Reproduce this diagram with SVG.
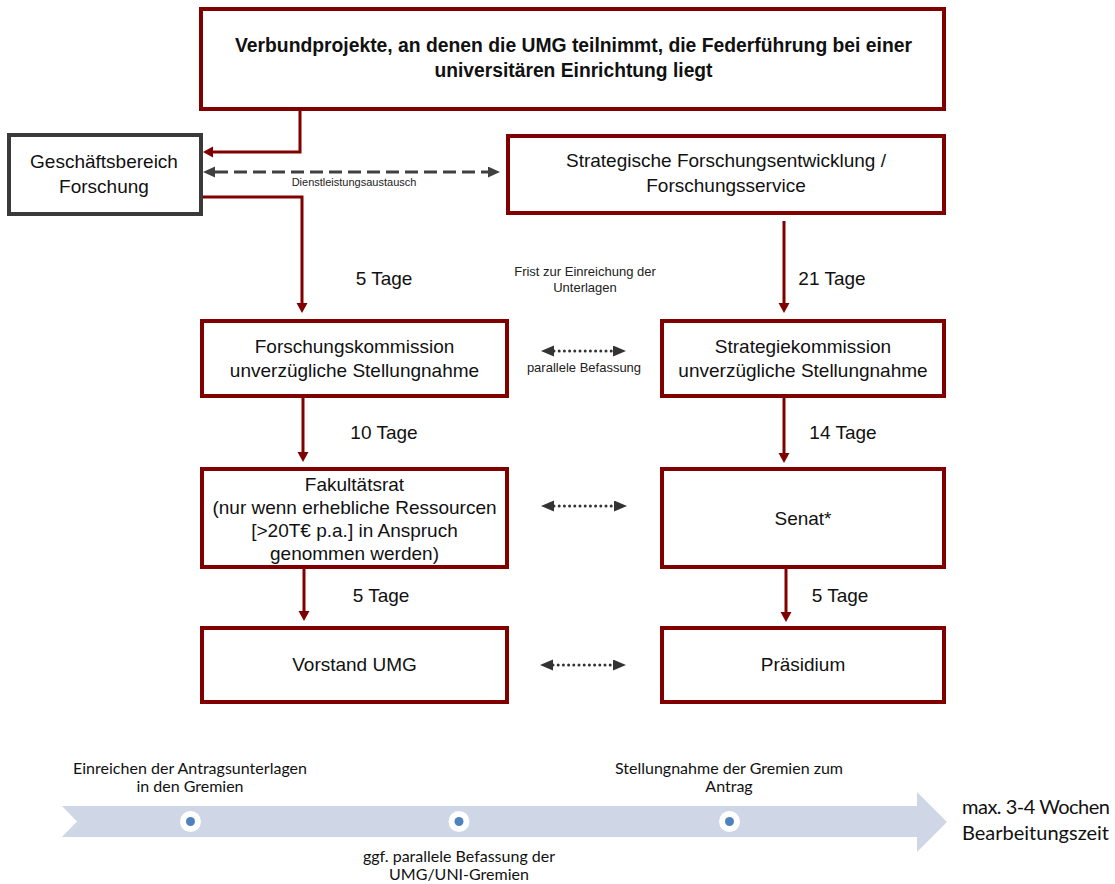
<svg xmlns="http://www.w3.org/2000/svg" width="1115" height="884" viewBox="0 0 1115 884">
<style>
.box{fill:#fff;stroke:#800000;stroke-width:4}
.gbox{fill:#fff;stroke:#3a3a3a;stroke-width:4}
.t{font-family:"Liberation Sans",Arial,sans-serif;font-size:19px;fill:#111;text-anchor:middle}
.tb{font-family:"Liberation Sans",Arial,sans-serif;font-size:20px;font-weight:bold;fill:#111;text-anchor:middle}
.s{font-family:"Liberation Sans",Arial,sans-serif;font-size:13px;fill:#222;text-anchor:middle}
.xs{font-family:"Liberation Sans",Arial,sans-serif;font-size:11px;fill:#222;text-anchor:middle}
.c{font-family:Lato,"Open Sans",sans-serif;font-size:16px;fill:#111;text-anchor:middle}
.cl{font-family:Lato,"Open Sans",sans-serif;font-size:20px;fill:#111}
.red{fill:none;stroke:#800000;stroke-width:3}
.dash{fill:none;stroke:#404040;stroke-width:3;stroke-dasharray:13 6}
.dot{fill:none;stroke:#333;stroke-width:3;stroke-linecap:round;stroke-dasharray:0 5.2}
</style>
<defs>
<marker id="ar" markerUnits="userSpaceOnUse" markerWidth="12" markerHeight="12" refX="0" refY="5.5" orient="auto"><path d="M0,0 L10,5.5 L0,11 z" fill="#800000"/></marker>
<marker id="ag" markerUnits="userSpaceOnUse" markerWidth="14" markerHeight="12" refX="0" refY="5.5" orient="auto-start-reverse"><path d="M0,0 L12,5.5 L0,11 z" fill="#404040"/></marker>
<marker id="ad" markerUnits="userSpaceOnUse" markerWidth="14" markerHeight="12" refX="0" refY="5.5" orient="auto-start-reverse"><path d="M0,0 L13,5.5 L0,11 z" fill="#333"/></marker>
</defs>

<g id="connectors">
<path class="red" d="M300,109 V152 H213" marker-end="url(#ar)"/>
<path class="red" d="M201,197 H302 V303" marker-end="url(#ar)"/>
<path class="red" d="M784,221 V303" marker-end="url(#ar)"/>
<path class="red" d="M303,396 V452" marker-end="url(#ar)"/>
<path class="red" d="M784,396 V453" marker-end="url(#ar)"/>
<path class="red" d="M304,567 V611" marker-end="url(#ar)"/>
<path class="red" d="M786,567 V612" marker-end="url(#ar)"/>
<path class="dash" d="M215,172 H488" marker-start="url(#ag)" marker-end="url(#ag)"/>
<text class="xs" x="354" y="186">Dienstleistungsaustausch</text>
<path class="dot" d="M554,351 H613" marker-start="url(#ad)" marker-end="url(#ad)"/>
<text class="s" x="584" y="372">parallele Befassung</text>
<path class="dot" d="M554,506 H614" marker-start="url(#ad)" marker-end="url(#ad)"/>
<path class="dot" d="M553,665 H613" marker-start="url(#ad)" marker-end="url(#ad)"/>
<text class="s" x="585" y="276">Frist zur Einreichung der</text>
<text class="s" x="585" y="292">Unterlagen</text>
<text class="t" x="384" y="285">5 Tage</text>
<text class="t" x="832" y="285">21 Tage</text>
<text class="t" x="384" y="439">10 Tage</text>
<text class="t" x="843" y="439">14 Tage</text>
<text class="t" x="381" y="602">5 Tage</text>
<text class="t" x="840" y="602">5 Tage</text>
</g>

<g id="n-top">
<rect class="box" x="201" y="9" width="743" height="100"/>
<text class="tb" x="573.5" y="52" textLength="677" lengthAdjust="spacingAndGlyphs">Verbundprojekte, an denen die UMG teilnimmt, die Federführung bei einer</text>
<text class="tb" x="573.5" y="77" textLength="278" lengthAdjust="spacingAndGlyphs">universitären Einrichtung liegt</text>
</g>

<g id="n-gbf">
<rect class="gbox" x="9" y="135" width="192" height="79"/>
<text class="t" x="104" y="168">Geschäftsbereich</text>
<text class="t" x="104" y="193">Forschung</text>
</g>

<g id="n-sfe">
<rect class="box" x="508" y="136" width="436" height="77"/>
<text class="t" x="726" y="167">Strategische Forschungsentwicklung /</text>
<text class="t" x="726" y="192">Forschungsservice</text>
</g>

<g id="n-fk">
<rect class="box" x="202" y="321" width="305" height="75"/>
<text class="t" x="354.5" y="353">Forschungskommission</text>
<text class="t" x="354.5" y="377">unverzügliche Stellungnahme</text>
</g>

<g id="n-sk">
<rect class="box" x="662" y="321" width="282" height="75"/>
<text class="t" x="803" y="353">Strategiekommission</text>
<text class="t" x="803" y="377">unverzügliche Stellungnahme</text>
</g>

<g id="n-fr">
<rect class="box" x="202" y="469" width="305" height="98"/>
<text class="t" x="354.5" y="490.5">Fakultätsrat</text>
<text class="t" x="354.5" y="513.8">(nur wenn erhebliche Ressourcen</text>
<text class="t" x="354.5" y="537.1">[&gt;20T€ p.a.] in Anspruch</text>
<text class="t" x="354.5" y="560.4">genommen werden)</text>
</g>

<g id="n-senat">
<rect class="box" x="662" y="469" width="282" height="98"/>
<text class="t" x="803" y="525">Senat*</text>
</g>

<g id="n-vorstand">
<rect class="box" x="202" y="628" width="305" height="74"/>
<text class="t" x="354.5" y="671">Vorstand UMG</text>
</g>

<g id="n-praesidium">
<rect class="box" x="662" y="628" width="282" height="74"/>
<text class="t" x="803" y="671">Präsidium</text>
</g>

<g id="timeline">
<path d="M62,806 H917 V792 L947,822 L917,852 V837 H62 L77,821.5 z" fill="#cfd7e6"/>
<circle cx="190.5" cy="821.5" r="10.5" fill="#fff"/>
<circle cx="190.5" cy="821.5" r="4.5" fill="#4f81bd"/>
<circle cx="459" cy="821.5" r="10.5" fill="#fff"/>
<circle cx="459" cy="821.5" r="4.5" fill="#4f81bd"/>
<circle cx="729.5" cy="821.5" r="10.5" fill="#fff"/>
<circle cx="729.5" cy="821.5" r="4.5" fill="#4f81bd"/>
<text class="c" x="190" y="774" textLength="234">Einreichen der Antragsunterlagen</text>
<text class="c" x="190" y="792" textLength="107">in den Gremien</text>
<text class="c" x="729" y="774">Stellungnahme der Gremien zum</text>
<text class="c" x="729" y="792">Antrag</text>
<text class="c" x="459" y="862">ggf. parallele Befassung der</text>
<text class="c" x="459" y="880">UMG/UNI-Gremien</text>
<text class="cl" x="962" y="814" textLength="148">max. 3-4 Wochen</text>
<text class="cl" x="962" y="840">Bearbeitungszeit</text>
</g>
</svg>
